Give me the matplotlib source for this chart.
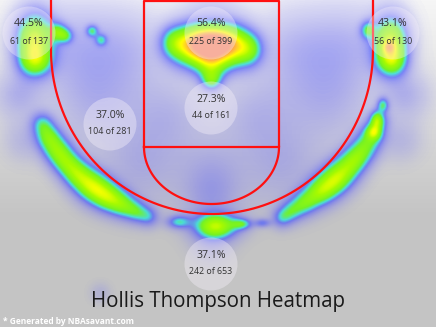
import numpy as np
import matplotlib.pyplot as plt
from matplotlib.colors import LinearSegmentedColormap
from matplotlib.patches import Circle

# ================================================================================
# zone labels (FG% and made/attempts)
zone_pct = ["44.5%", "56.4%", "43.1%", "37.0%", "27.3%", "37.1%"]
zone_made = [61, 225, 56, 104, 44, 242]
zone_att = [137, 399, 130, 281, 161, 653]
zone_x = [29, 211, 393, 110, 211, 211]
zone_y = [33, 33, 33, 124, 108, 264]

# shot clusters (pixel space): x, y, weight, spread x, spread y
# corners + paint
spot_x = [34, 35, 58, 66, 92, 101,
          211, 189, 234, 211, 211, 172, 250, 211,
          390, 391, 388, 367, 382, 376, 373]
spot_y = [40, 62, 32, 36, 31, 40,
          44, 47, 47, 66, 81, 42, 50, 44,
          42, 62, 47, 30, 105, 120, 132]
spot_w = [0.6, 0.3, 0.3, 0.22, 0.26, 0.22,
          0.6, 0.38, 0.38, 0.34, 0.3, 0.24, 0.24, 0.4,
          0.6, 0.3, 0.2, 0.28, 0.3, 0.26, 0.3]
spot_sx = [13, 11, 6, 5, 4, 4,
           20, 14, 14, 11, 7, 9, 9, 14,
           12, 10, 4, 5, 4, 4, 5]
spot_sy = [19, 10, 6, 5, 4, 4,
           14, 15, 15, 11, 7, 11, 11, 10,
           18, 10, 4, 6, 5, 6, 5]

# wing bands just outside the three point line
band_x = [42, 48, 56, 65, 75, 86, 98, 111, 124, 137, 149,
          378, 372, 364, 354, 343, 331, 318, 304, 291, 281]
band_y = [123, 136, 149, 161, 172, 182, 191, 199, 206, 212, 217,
          120, 134, 148, 160, 172, 183, 193, 203, 211, 218]
band_w = [0.24, 0.31, 0.35, 0.33, 0.33, 0.37, 0.41, 0.37, 0.31, 0.27, 0.22,
          0.23, 0.28, 0.31, 0.33, 0.37, 0.42, 0.37, 0.32, 0.27, 0.24]
band_s = [8, 9, 10, 10, 10, 11, 11, 10, 9, 8, 7,
          7, 9, 10, 10, 11, 11, 10, 9, 8, 7]

# bottom of the arc
low_x = [216, 178, 242, 262]
low_y = [226, 222, 224, 223]
low_w = [0.52, 0.3, 0.28, 0.22]
low_s = [11, 6, 5, 4]

# low volume areas (the lavender haze)
haze_x = [18, 70, 125, 295, 350, 405, 95, 327, 168, 255, 140, 282, 211, 211, 211, 211, 100, 25, 400]
haze_y = [95, 45, 50, 50, 45, 95, 100, 100, 115, 115, 165, 165, 170, 200, 240, 15, 293, 140, 140]
haze_w = [0.11, 0.1, 0.1, 0.1, 0.1, 0.11, 0.1, 0.1, 0.09, 0.09, 0.1, 0.1, 0.09, 0.1, 0.1, 0.07, 0.06, 0.08, 0.08]
haze_s = [16, 30, 30, 30, 30, 16, 30, 30, 26, 26, 28, 28, 24, 20, 14, 20, 7, 14, 14]

title = "Hollis Thompson Heatmap"
footer = "* Generated by NBAsavant.com"

# ================================================================================
W, H = 436, 327
fig = plt.figure(figsize=(W / 100, H / 100), dpi=100)
ax = fig.add_axes([0, 0, 1, 1])
ax.set_xlim(0, W)
ax.set_ylim(H, 0)
ax.axis("off")

# background gradient
yy = np.linspace(0, H, H)
g = np.clip(0.965 - 0.195 * yy / 215, 0.77, 1)
bg = np.repeat(g[:, None], 4, axis=1)
ax.imshow(np.dstack([bg, bg, bg]), extent=(0, W, H, 0), aspect="auto", zorder=0)

# density
gx, gy = np.meshgrid(np.arange(W) + 0.5, np.arange(H) + 0.5)
dens = np.zeros((H, W))

def add_blob(x0, y0, w, sx, sy):
  global dens
  dens += w * np.exp(-((gx - x0) ** 2 / (2 * sx ** 2) + (gy - y0) ** 2 / (2 * sy ** 2)))

for x0, y0, w, sx, sy in zip(spot_x, spot_y, spot_w, spot_sx, spot_sy):
  add_blob(x0, y0, w, sx, sy)
for x0, y0, w, s in zip(band_x, band_y, band_w, band_s):
  add_blob(x0, y0, w, s, s)
for x0, y0, w, s in zip(low_x, low_y, low_w, low_s):
  add_blob(x0, y0, w, s * 1.4, s * 0.8)
for x0, y0, w, s in zip(haze_x, haze_y, haze_w, haze_s):
  add_blob(x0, y0, w, s, s)
dens = np.clip(dens, 0, 1)

heat = LinearSegmentedColormap.from_list("heat", [
  (0.0, (0.45, 0.45, 0.95, 0.0)),
  (0.05, (0.50, 0.50, 0.95, 0.25)),
  (0.13, (0.42, 0.42, 0.97, 0.45)),
  (0.24, (0.30, 0.35, 1.0, 0.7)),
  (0.33, (0.25, 0.88, 0.85, 0.92)),
  (0.42, (0.45, 0.95, 0.15, 1.0)),
  (0.58, (0.65, 0.98, 0.0, 1.0)),
  (0.72, (1.0, 1.0, 0.0, 1.0)),
  (0.85, (1.0, 0.72, 0.25, 1.0)),
  (1.0, (0.98, 0.52, 0.38, 1.0)),
])
ax.imshow(dens, cmap=heat, vmin=0, vmax=1, extent=(0, W, H, 0), aspect="auto",
          interpolation="bilinear", zorder=1)

# ================================================================================
# court lines
red = "#ff1010"
cx, a3, cy3, b3 = 212, 161, 50, 164
t = np.linspace(np.pi, 0, 200)
arc_x = np.concatenate([[cx - a3], cx + a3 * np.cos(t), [cx + a3]])
arc_y = np.concatenate([[0], cy3 + b3 * np.sin(t), [0]])
ax.plot(arc_x, arc_y, color=red, lw=1.6, zorder=3)

ax.plot([144, 144, 279, 279, 144], [147, 0.7, 0.7, 147, 147], color=red, lw=1.6, zorder=3)
t2 = np.linspace(0, np.pi, 100)
ax.plot(211.5 + 67.5 * np.cos(t2), 147 + 57 * np.sin(t2), color=red, lw=1.6, zorder=3)

# ================================================================================
# zone bubbles
for x0, y0, p, m, n in zip(zone_x, zone_y, zone_pct, zone_made, zone_att):
  ax.add_patch(Circle((x0, y0), 26.5, facecolor=(0.96, 0.94, 0.98), alpha=0.4,
                      edgecolor="none", zorder=4))
  ax.text(x0, y0 - 9, p, ha="center", va="center", fontsize=7.6, color="#333333",
          family="Open Sans", zorder=5)
  ax.text(x0, y0 + 8, str(m) + " of " + str(n), ha="center", va="center", fontsize=6.4,
          color="#333333", family="Open Sans", zorder=5)

ax.text(218, 302, title, ha="center", va="center", fontsize=14.8, color="#1a1a1a",
        family="Open Sans", zorder=5)
ax.text(3, 321, footer, ha="left", va="center", fontsize=6.0, color="white",
        family="Open Sans", fontweight="bold", zorder=5)

fig.savefig("out.png", dpi=100)
